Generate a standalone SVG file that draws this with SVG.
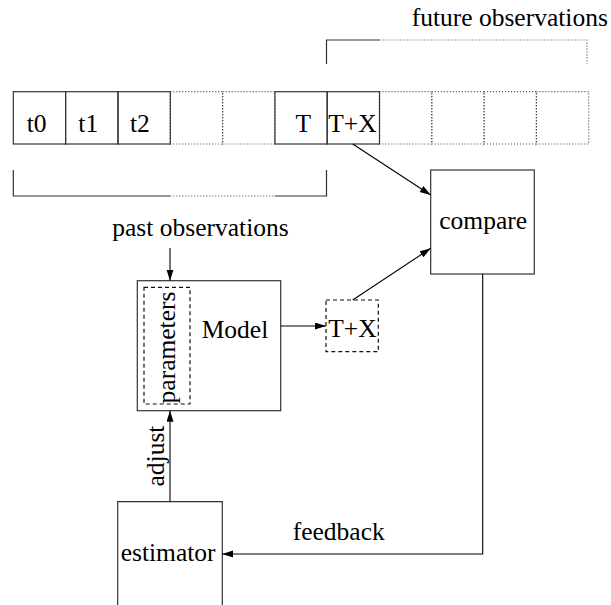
<svg xmlns="http://www.w3.org/2000/svg" width="611" height="605" viewBox="0 0 611 605">
<defs>
<style>
.box{fill:none;stroke:#333;stroke-width:1.2}
.dot{fill:none;stroke:#444;stroke-width:1.2;stroke-dasharray:1 2}
.dash{fill:none;stroke:#111;stroke-width:1.2;stroke-dasharray:4 3}
.ln{fill:none;stroke:#000;stroke-width:1.1}
</style>
<marker id="ah" markerUnits="userSpaceOnUse" markerWidth="12" markerHeight="8" refX="11" refY="3.5" orient="auto">
<path d="M0,0 L11,3.5 L0,7 z" fill="#000"/>
</marker>
</defs>
<rect width="611" height="605" fill="#fff"/>
<g font-family="'Liberation Serif', 'Times New Roman', serif" font-size="25.5" fill="#000">
<g id="timeline">
<rect class="dot" x="170.3" y="91.7" width="52.3" height="52.3"/>
<rect class="dot" x="222.6" y="91.7" width="52.3" height="52.3"/>
<rect class="dot" x="379.5" y="91.7" width="52.3" height="52.3"/>
<rect class="dot" x="431.8" y="91.7" width="52.3" height="52.3"/>
<rect class="dot" x="484.1" y="91.7" width="52.3" height="52.3"/>
<rect class="dot" x="536.4" y="91.7" width="52.3" height="52.3"/>
<g id="cell-t0"><rect class="box" x="13.3" y="91.7" width="52.3" height="52.3"/><text x="26.7" y="131.5">t0</text></g>
<g id="cell-t1"><rect class="box" x="65.6" y="91.7" width="52.4" height="52.3"/><text x="78.3" y="131.5">t1</text></g>
<g id="cell-t2"><rect class="box" x="118" y="91.7" width="52.3" height="52.3"/><text x="130" y="131.5">t2</text></g>
<g id="cell-T"><rect class="box" x="274.9" y="91.7" width="52.3" height="52.3"/><text x="295.5" y="131.5">T</text></g>
<g id="cell-TX"><rect class="box" x="327.2" y="91.7" width="52.3" height="52.3"/><text x="328.3" y="131.5">T+X</text></g>
</g>
<g id="past-bracket">
<path class="box" d="M13.3,170 V196 H170.3"/>
<path class="dot" d="M170.3,196 H274.9"/>
<path class="box" d="M274.9,196 H326.5 V170"/>
<text x="112.3" y="236">past observations</text>
</g>
<g id="future-bracket">
<path class="box" d="M326.5,64 V40 H379.5"/>
<path class="dot" d="M379.5,40 H587 V64"/>
<text x="411.7" y="25.5">future observations</text>
</g>
<g id="compare">
<rect class="box" x="430.7" y="170" width="103.6" height="104"/>
<text x="439.3" y="229">compare</text>
</g>
<g id="model">
<rect class="box" x="137.3" y="280.7" width="143.4" height="130"/>
<text x="201.7" y="338.3">Model</text>
</g>
<g id="parameters">
<rect class="dash" x="144" y="287.3" width="46" height="116.7"/>
<text transform="translate(175,347.5) rotate(-90)" text-anchor="middle">parameters</text>
</g>
<g id="prediction">
<rect class="dash" x="326" y="300" width="52.3" height="51.7"/>
<text x="328.3" y="337.3">T+X</text>
</g>
<g id="estimator">
<path class="box" d="M117.7,610 V501.7 H222.3 V610"/>
<text x="120.7" y="560.7">estimator</text>
</g>
<g id="connectors">
<line class="ln" x1="352.7" y1="144" x2="430.7" y2="195" marker-end="url(#ah)"/>
<line class="ln" x1="352.7" y1="300" x2="430.7" y2="248.3" marker-end="url(#ah)"/>
<line class="ln" x1="280.7" y1="326" x2="326" y2="326" marker-end="url(#ah)"/>
<line class="ln" x1="170" y1="248" x2="170" y2="280.7" marker-end="url(#ah)"/>
<line class="ln" x1="170" y1="501.7" x2="170" y2="410.7" marker-end="url(#ah)"/>
<path class="ln" d="M482.7,274 V554 H222.3" marker-end="url(#ah)"/>
<text x="292.7" y="540">feedback</text>
<text transform="translate(163.5,456) rotate(-90)" text-anchor="middle">adjust</text>
</g>
</g>
</svg>
